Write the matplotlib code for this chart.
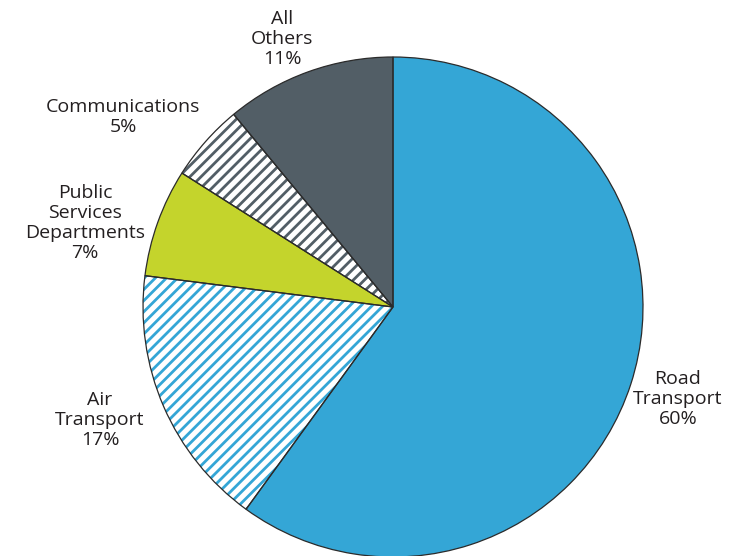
import matplotlib
matplotlib.use("Agg")
import matplotlib.pyplot as plt

# data (clockwise from 12 o'clock)
categories = ["Road\nTransport", "Air\nTransport", "Public\nServices\nDepartments",
              "Communications", "All\nOthers"]
shares = [60, 17, 7, 5, 11]

# styling
face_colors = ["#34a6d6", "white", "#c4d42c", "white", "#525e66"]
hatch_colors = [None, "#34a6d6", None, "#525e66", None]
label_pos = [(678, 399), (100, 420), (85, 223), (123, 117), (282, 39)]

plt.rcParams["font.family"] = ["Open Sans", "DejaVu Sans"]
plt.rcParams["hatch.linewidth"] = 2.0

W, H = 735, 556
fig = plt.figure(figsize=(W / 100, H / 100), dpi=100)
ax = fig.add_axes([0, 0, 1, 1])

center = (393, 307)
radius = 250

# filled wedges (image y axis is flipped, so counterclock=True draws clockwise)
wedges, _ = ax.pie(shares, colors=face_colors, startangle=-90, counterclock=True,
                   center=center, radius=radius, frame=True,
                   wedgeprops=dict(linewidth=0))
for w, hc in zip(wedges, hatch_colors):
    if hc:
        w.set_hatch("///")
        w.set_edgecolor(hc)
        w.set_linewidth(0)

# outlines
ax.pie(shares, colors=face_colors, startangle=-90, counterclock=True,
       center=center, radius=radius, frame=True,
       wedgeprops=dict(fill=False, edgecolor="#2b2b2b", linewidth=0.9))

ax.set_xlim(0, W)
ax.set_ylim(H, 0)
ax.set_aspect("equal")
ax.axis("off")

for name, val, (x, y) in zip(categories, shares, label_pos):
    ax.text(x, y, f"{name}\n{val}%", ha="center", va="center", fontsize=14,
            color="#231f20", linespacing=1.15)

fig.savefig("out.png", dpi=100)
